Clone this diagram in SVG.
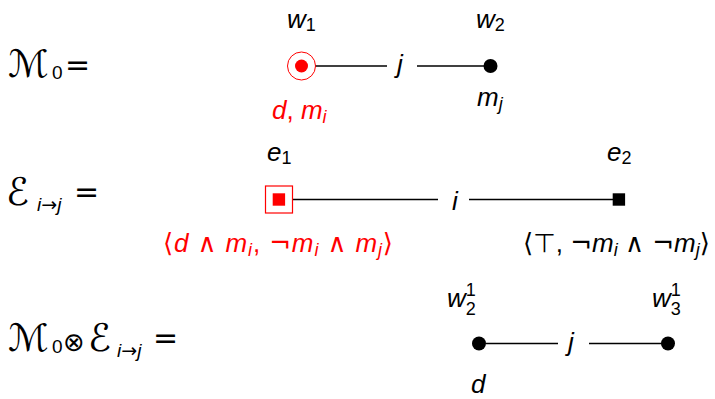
<svg xmlns="http://www.w3.org/2000/svg" width="715" height="399" viewBox="0 0 715 399">
<style>
.t{font-family:"Liberation Sans","DejaVu Sans",sans-serif;font-size:26px;fill:#000}
.c{font-family:"DejaVu Sans",sans-serif}
.q{font-family:"DejaVu Sans",sans-serif;font-size:30px}
.m{font-family:"DejaVu Sans",sans-serif;font-size:38px}
.i{font-style:italic}
.s{font-size:18px}
.s2{font-size:19px}
.r{fill:#f00}
.e{stroke:#000;stroke-width:1.3;fill:none}
</style>
<rect width="715" height="399" fill="#fff"/>

<!-- equation heads -->
<text class="t" x="8" y="77"><tspan class="m">ℳ</tspan><tspan class="s2" x="52" dy="2">0</tspan><tspan dy="-4" class="q" x="65">=</tspan></text>
<text class="t" x="6" y="205"><tspan class="m">ℰ</tspan><tspan class="s2 i" x="37" dy="6">i</tspan><tspan class="s2 c">→</tspan><tspan class="s2 i">j</tspan><tspan dy="-9" class="q" x="74">=</tspan></text>
<text class="t" x="8" y="351"><tspan class="m">ℳ</tspan><tspan class="s2" x="52" dy="2">0</tspan><tspan dy="-2" class="c" x="63">⊗</tspan><tspan class="m" x="88">ℰ</tspan><tspan class="s2 i" x="117" dy="6">i</tspan><tspan class="s2 c">→</tspan><tspan class="s2 i">j</tspan><tspan dy="-9" class="q" x="153">=</tspan></text>

<!-- connectors -->
<g id="edges">
<line class="e" x1="315" y1="66" x2="387" y2="66"/>
<line class="e" x1="417" y1="66" x2="485" y2="66"/>
<text class="t i" x="400" y="73" text-anchor="middle">j</text>
<line class="e" x1="292" y1="199.5" x2="438" y2="199.5"/>
<line class="e" x1="469" y1="199.5" x2="613" y2="199.5"/>
<text class="t i" x="455" y="210" text-anchor="middle">i</text>
<line class="e" x1="486" y1="343.5" x2="558" y2="343.5"/>
<line class="e" x1="589" y1="343.5" x2="662" y2="343.5"/>
<text class="t i" x="571" y="351" text-anchor="middle">j</text>
</g>

<!-- M0 -->
<g id="w1">
<circle cx="301.5" cy="66" r="14" fill="none" stroke="#f00" stroke-width="1"/>
<circle cx="301.5" cy="66" r="6.5" fill="#f00"/>
<text class="t" x="287" y="28"><tspan class="i">w</tspan><tspan class="s" dy="3">1</tspan></text>
<text class="t r" x="272" y="119"><tspan class="i">d</tspan>, <tspan class="i">m</tspan><tspan class="s i" dy="4">i</tspan></text>
</g>
<g id="w2">
<circle cx="490.5" cy="66" r="7" fill="#000"/>
<text class="t" x="476" y="28"><tspan class="i">w</tspan><tspan class="s" dy="3">2</tspan></text>
<text class="t" x="477" y="106"><tspan class="i">m</tspan><tspan class="s i" dy="4">j</tspan></text>
</g>

<!-- E i->j -->
<g id="e1">
<rect x="265.5" y="186" width="27" height="27" fill="none" stroke="#f00" stroke-width="1.2"/>
<rect x="272.7" y="193.3" width="12.4" height="12.4" fill="#f00"/>
<text class="t" x="267" y="161"><tspan class="i">e</tspan><tspan class="s" dy="3">1</tspan></text>
<text class="t r" x="163" y="252" textLength="230" lengthAdjust="spacing"><tspan class="c">⟨</tspan><tspan class="i">d</tspan> <tspan class="c">∧</tspan> <tspan class="i">m</tspan><tspan class="s i" dy="4">i</tspan><tspan dy="-4">, </tspan><tspan class="c">¬</tspan><tspan class="i">m</tspan><tspan class="s i" dy="4">i</tspan><tspan dy="-4"> </tspan><tspan class="c">∧</tspan> <tspan class="i">m</tspan><tspan class="s i" dy="4">j</tspan><tspan dy="-4" class="c">⟩</tspan></text>
</g>
<g id="e2">
<rect x="612.7" y="193.3" width="12.4" height="12.4" fill="#000"/>
<text class="t" x="607" y="161"><tspan class="i">e</tspan><tspan class="s" dy="3">2</tspan></text>
<text class="t" x="523" y="252"><tspan class="c">⟨⊤</tspan>, <tspan class="c">¬</tspan><tspan class="i">m</tspan><tspan class="s i" dy="4">i</tspan><tspan dy="-4"> </tspan><tspan class="c">∧ ¬</tspan><tspan class="i">m</tspan><tspan class="s i" dy="4">j</tspan><tspan dy="-4" class="c">⟩</tspan></text>
</g>

<!-- product -->
<g id="w2_1">
<circle cx="479" cy="343.5" r="7" fill="#000"/>
<text class="t" x="447" y="307"><tspan class="i">w</tspan><tspan class="s" dy="8">2</tspan><tspan class="s" dy="-19" dx="-10">1</tspan></text>
<text class="t i" x="471" y="393">d</text>
</g>
<g id="w3_1">
<circle cx="668" cy="343.5" r="7" fill="#000"/>
<text class="t" x="652" y="307"><tspan class="i">w</tspan><tspan class="s" dy="8">3</tspan><tspan class="s" dy="-19" dx="-10">1</tspan></text>
</g>
</svg>
